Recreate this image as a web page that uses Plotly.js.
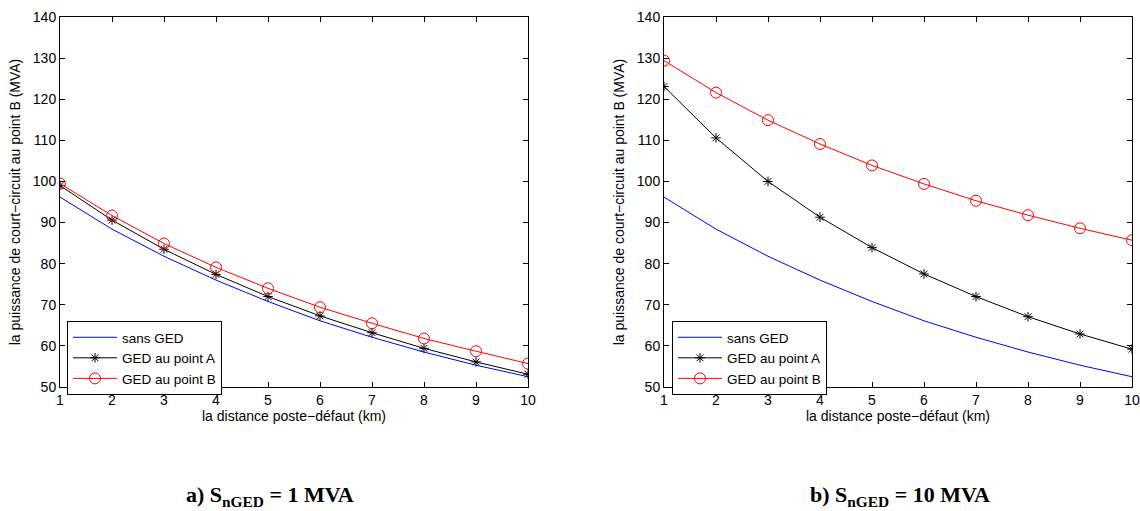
<!DOCTYPE html>
<html>
<head>
<meta charset="utf-8">
<script src="https://cdn.plot.ly/plotly-3.0.1.min.js"></script>
<style>html,body{margin:0;padding:0;background:#fff;}#chart{width:1140px;height:511px;}</style>
</head>
<body>
<div id="chart"></div>
<script>
// distance poste-défaut (km)
const distance = [1, 2, 3, 4, 5, 6, 7, 8, 9, 10];
// sans GED (identique pour les deux cas)
const sansGED = [96.2, 88.4, 81.8, 76.0, 70.8, 66.1, 62.1, 58.5, 55.3, 52.5];
// a) SnGED = 1 MVA
const gedA_1 = [99.0, 90.6, 83.5, 77.4, 72.0, 67.3, 63.2, 59.4, 56.1, 53.1];
const gedB_1 = [99.5, 91.7, 84.9, 79.1, 74.0, 69.4, 65.5, 61.8, 58.7, 55.7];
// b) SnGED = 10 MVA
const gedA_10 = [123.1, 110.6, 100.0, 91.3, 83.9, 77.5, 72.0, 67.1, 62.9, 59.2];
const gedB_10 = [129.4, 121.6, 114.9, 109.1, 103.9, 99.4, 95.3, 91.8, 88.6, 85.7];

const names = ["sans GED", "GED au point A", "GED au point B"];
const captions = ["a) S<sub>nGED</sub> = 1 MVA", "b) S<sub>nGED</sub> = 10 MVA"];
const xTitle = "la distance poste\u2212défaut (km)";
const yTitle = "la puissance de court\u2212circuit au point B (MVA)";

const W = 1140, H = 511;
const font = {family: "Liberation Sans, Arial, sans-serif", size: 14, color: "#000"};
const legFont = {family: "Liberation Sans, Arial, sans-serif", size: 13.5, color: "#000"};

function traces(a, b, xa, ya, lg) {
  return [
    {x: distance, y: sansGED, name: names[0], type: "scatter", mode: "lines",
     line: {color: "#0000ff", width: 1}, xaxis: xa, yaxis: ya, legend: lg},
    {x: distance, y: a, name: names[1], type: "scatter", mode: "lines+markers",
     line: {color: "#000000", width: 1},
     marker: {symbol: "asterisk-open", size: 8, color: "#000", line: {color: "#000", width: 1}},
     xaxis: xa, yaxis: ya, legend: lg},
    {x: distance, y: b, name: names[2], type: "scatter", mode: "lines+markers",
     line: {color: "#ff0000", width: 1},
     marker: {symbol: "circle-open", size: 11, color: "#ff0000", line: {color: "#ff0000", width: 1}},
     xaxis: xa, yaxis: ya, legend: lg}
  ];
}

const data = [].concat(
  traces(gedA_1, gedB_1, "x", "y", "legend"),
  traces(gedA_10, gedB_10, "x2", "y2", "legend2")
);

const y0 = (H - 387) / H, y1 = (H - 17) / H;

function xax(dom, anchor) {
  return {domain: dom, anchor: anchor, range: [1, 10], tickmode: "array",
    tickvals: distance, ticks: "inside", ticklen: 5, tickcolor: "#000",
    showline: true, linecolor: "#000", linewidth: 1, mirror: "ticks",
    showgrid: false, zeroline: false, tickfont: font,
    title: {text: xTitle, font: font, standoff: 3}};
}
function yax(anchor) {
  return {domain: [y0, y1], anchor: anchor, range: [50, 140], dtick: 10,
    ticks: "inside", ticklen: 5, tickcolor: "#000",
    showline: true, linecolor: "#000", linewidth: 1, mirror: "ticks",
    showgrid: false, zeroline: false, tickfont: font,
    title: {text: yTitle, font: font, standoff: 8}};
}

function legend(xpx) {
  return {x: xpx / W, y: (H - 321) / H, xanchor: "left", yanchor: "top",
    bgcolor: "#fff", bordercolor: "#000", borderwidth: 1,
    font: legFont, tracegroupgap: 0, itemwidth: 44};
}

const capFont = {family: "Liberation Serif, Times New Roman, serif", size: 22, color: "#000", weight: "bold"};

const layout = {
  width: W, height: H,
  margin: {l: 0, r: 0, t: 0, b: 0},
  paper_bgcolor: "#fff", plot_bgcolor: "#fff",
  font: font,
  showlegend: true,
  xaxis: xax([60 / W, 528 / W], "y"),
  yaxis: yax("x"),
  xaxis2: xax([664 / W, 1132 / W], "y2"),
  yaxis2: yax("x2"),
  legend: legend(67),
  legend2: legend(672),
  annotations: [
    {text: captions[0], xref: "paper", yref: "paper", x: 270 / W, y: (H - 496) / H,
     xanchor: "center", yanchor: "middle", showarrow: false, font: capFont},
    {text: captions[1], xref: "paper", yref: "paper", x: 900 / W, y: (H - 496) / H,
     xanchor: "center", yanchor: "middle", showarrow: false, font: capFont}
  ]
};

Plotly.newPlot("chart", data, layout, {displayModeBar: false, staticPlot: true});
</script>
</body>
</html>
